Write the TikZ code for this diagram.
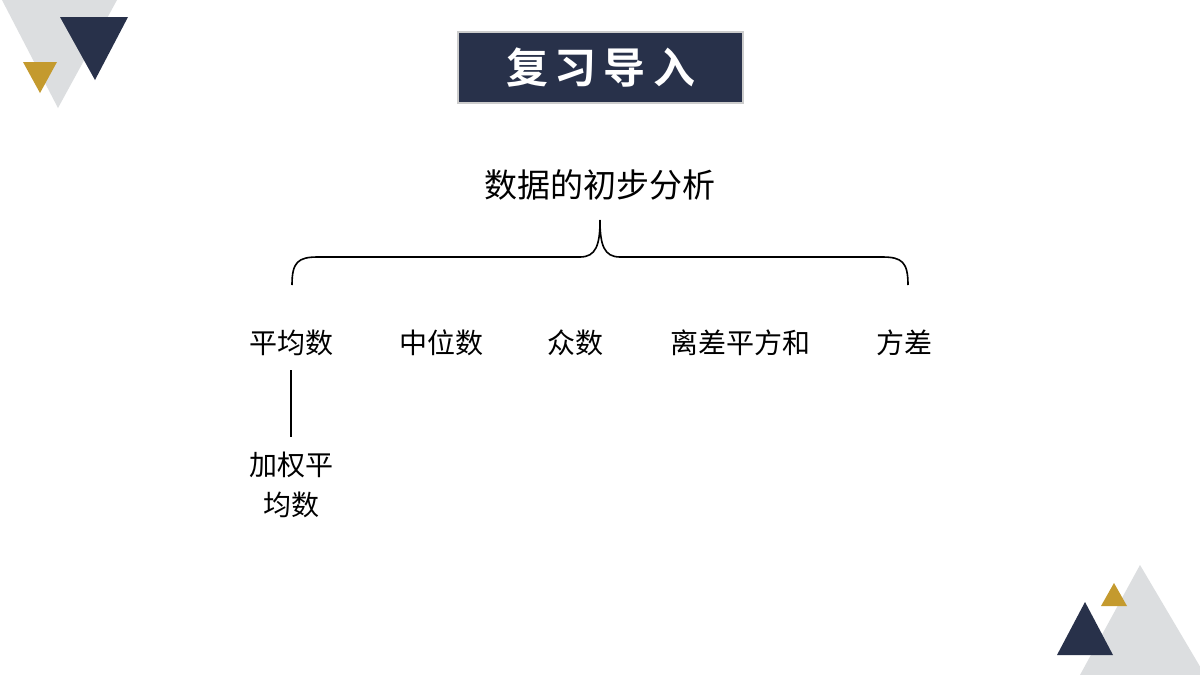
\documentclass[tikz,border=0pt]{standalone}
\usepackage{fontspec}
\newfontfamily\cjk{Noto Sans CJK SC}
\newfontfamily\cjkb{Noto Sans CJK SC Bold}
\definecolor{navy}{HTML}{28314A}
\definecolor{gold}{HTML}{C49A2E}
\definecolor{lgrey}{HTML}{DCDEE0}
\begin{document}
\begin{tikzpicture}[x=1pt,y=-1pt,
  lab/.style={font=\cjk\fontsize{28}{34}\selectfont,inner sep=0pt}]
\useasboundingbox (0,0) rectangle (1200,675);
\fill[white] (0,0) rectangle (1200,675);
% decorations
\fill[lgrey] (2,0) -- (117,0) -- (58,108) -- cycle;
\fill[navy] (60,17) -- (128,17) -- (95,80) -- cycle;
\fill[gold] (23,62) -- (57,62) -- (40,93) -- cycle;
\fill[lgrey] (1140,565) -- (1205,675) -- (1080,675) -- cycle;
\fill[navy] (1085,602) -- (1113,655) -- (1057,655) -- cycle;
\fill[gold] (1114,583) -- (1127,606) -- (1101,606) -- cycle;
% title
\node[draw=gray!40,line width=1.5pt,fill=navy,minimum width=285,minimum height=71,
  text=white,font=\cjkb\fontsize{42}{48}\selectfont] (title) at (600.5,67.5) {复\,习\,导\,入};
\node[lab,font=\cjk\fontsize{33}{40}\selectfont] (main) at (600,185) {数据的初步分析};
% brace
\coordinate (bl) at (292,285);
\coordinate (br) at (908,285);
\coordinate (tip) at (600,220);
\draw[line width=1.6pt] (bl) .. controls (292,262) and (298,257) .. (318,257) -- (580,257)
  .. controls (596,257) and (600,245) .. (tip);
\draw[line width=1.6pt] (br) .. controls (908,262) and (902,257) .. (882,257) -- (620,257)
  .. controls (604,257) and (600,245) .. (tip);
\node[lab] (a) at (291,343) {平均数};
\node[lab] (b) at (441,343) {中位数};
\node[lab] (c) at (575,343) {众数};
\node[lab] (d) at (740,343) {离差平方和};
\node[lab] (e) at (904,343) {方差};
\node[lab,align=center,font=\cjk\fontsize{28}{40}\selectfont] (f) at (291,485) {加权平\\均数};
\draw[line width=1.6pt] (291,370) -- (291,437);
\end{tikzpicture}
\end{document}
